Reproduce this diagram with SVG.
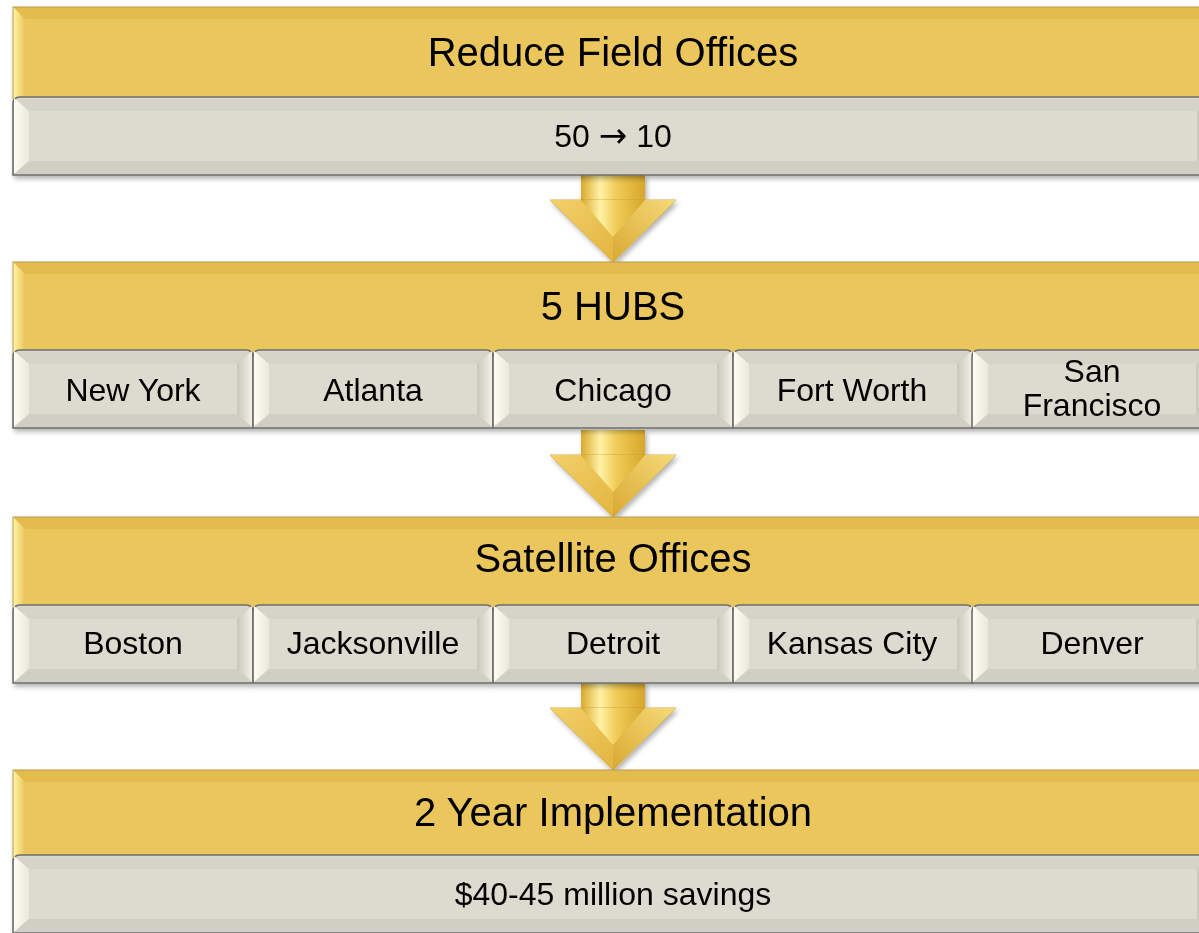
<svg xmlns="http://www.w3.org/2000/svg" xmlns:xlink="http://www.w3.org/1999/xlink" width="1199" height="933" viewBox="0 0 1199 933">
<style>
text{font-family:"Liberation Sans",Arial,sans-serif;fill:#000;text-anchor:middle}
.h{font-size:40px}
.s{font-size:32px}
.ar{font-family:"DejaVu Sans",sans-serif;font-size:34px}
.g0{fill:#EBC65B}
.gt{fill:#E3BC4E}
.gl{fill:url(#gL)}
.gr{fill:url(#gR)}
.gc{fill:#EBC65B}
.c0{fill:#DAD7CD;stroke:#6E6E6E;stroke-width:1.6}
.ct{fill:#D6D3C9}
.cl{fill:url(#cL)}
.cr{fill:url(#cR)}
.cb{fill:#D1CEC4}
.cc{fill:#DDDAD0}
</style>
<defs>
<linearGradient id="gL" x1="0" y1="0" x2="1" y2="0"><stop offset="0" stop-color="#FFF6A8"/><stop offset="1" stop-color="#EBC65B"/></linearGradient>
<linearGradient id="gR" x1="0" y1="0" x2="1" y2="0"><stop offset="0" stop-color="#EBC65B"/><stop offset="1" stop-color="#FFF3A0"/></linearGradient>
<linearGradient id="cL" x1="0" y1="0" x2="1" y2="0"><stop offset="0" stop-color="#FFFDF2"/><stop offset="1" stop-color="#EAE7DC"/></linearGradient>
<linearGradient id="cR" x1="0" y1="0" x2="1" y2="0"><stop offset="0" stop-color="#C9C6BC"/><stop offset="1" stop-color="#F3F1E7"/></linearGradient>
<linearGradient id="shaft" x1="0" y1="0" x2="1" y2="0"><stop offset="0" stop-color="#D9A92C"/><stop offset="0.3" stop-color="#FFF2A6"/><stop offset="0.55" stop-color="#F0CC58"/><stop offset="1" stop-color="#D7A62A"/></linearGradient>
<linearGradient id="headL" x1="0" y1="0" x2="1" y2="1"><stop offset="0" stop-color="#F3D06A"/><stop offset="1" stop-color="#E2B540"/></linearGradient>
<linearGradient id="headR" x1="1" y1="0" x2="0" y2="1"><stop offset="0" stop-color="#F6DA7A"/><stop offset="1" stop-color="#D9A932"/></linearGradient>
<filter id="sh" x="-5%" y="-20%" width="110%" height="150%"><feDropShadow dx="2" dy="3" stdDeviation="2.5" flood-color="#000" flood-opacity="0.3"/></filter>
<g id="hdr">
<rect class="g0" x="0" y="0" width="1200" height="92"/>
<path class="gt" d="M0 0H1200L1188 12H12Z"/>
<path class="gl" d="M0 0L12 12V92L0 92Z"/>
<path class="gr" d="M1200 0V92L1188 92V12Z"/>
<rect class="gc" x="12" y="12" width="1176" height="80"/>
<rect x="0" y="0" width="1200" height="92" fill="none" stroke="#B89B50" stroke-width="1"/>
</g>
<g id="bar">
<path class="c0" d="M0 78V7Q0 0 7 0H1193Q1200 0 1200 7V78Z"/>
<path class="ct" d="M2 2H1198L1184 14H16Z"/>
<path class="cl" d="M1 1L16 14V64L1 77Z"/>
<path class="cr" d="M1199 1V77L1184 64V14Z"/>
<path class="cb" d="M1 77H1199L1184 64H16Z"/>
<rect class="cc" x="16" y="14" width="1168" height="50"/>
</g>
<g id="cell">
<path class="c0" d="M0 78V7Q0 0 7 0H233Q240 0 240 7V78Z"/>
<path class="ct" d="M2 2H238L224 14H16Z"/>
<path class="cl" d="M1 1L16 14V64L1 77Z"/>
<path class="cr" d="M239 1V77L224 64V14Z"/>
<path class="cb" d="M1 77H239L224 64H16Z"/>
<rect class="cc" x="16" y="14" width="208" height="50"/>
</g>
<g id="arrow">
<rect x="-32" y="0" width="64" height="27" fill="url(#shaft)"/>
<path d="M-63 25H63L0 87Z" fill="#E3B843" stroke="#C89E30" stroke-width="0.8"/>
<path d="M-63 25H-32L0 62L0 87Z" fill="url(#headL)"/>
<path d="M63 25H32L0 62L0 87Z" fill="url(#headR)"/>
<path d="M-32 25L0 62L32 25Z" fill="url(#shaft)"/>
</g>
</defs>
<g id="connectors" filter="url(#sh)">
<use xlink:href="#arrow" x="613" y="175"/>
<use xlink:href="#arrow" x="613" y="430"/>
<use xlink:href="#arrow" x="613" y="683"/>
</g>
<g id="n1" filter="url(#sh)">
<use xlink:href="#hdr" x="13" y="7"/>
<use xlink:href="#bar" x="13" y="97"/>
<text class="h" x="613" y="66">Reduce Field Offices</text>
<text class="s" x="613" y="147">50 <tspan class="ar">→</tspan> 10</text>
</g>
<g id="n2" filter="url(#sh)">
<use xlink:href="#hdr" x="13" y="262"/>
<text class="h" x="613" y="320">5 HUBS</text>
<g id="n2a"><use xlink:href="#cell" x="13" y="350"/><text class="s" x="133" y="401">New York</text></g>
<g id="n2b"><use xlink:href="#cell" x="253" y="350"/><text class="s" x="373" y="401">Atlanta</text></g>
<g id="n2c"><use xlink:href="#cell" x="493" y="350"/><text class="s" x="613" y="401">Chicago</text></g>
<g id="n2d"><use xlink:href="#cell" x="733" y="350"/><text class="s" x="852" y="401">Fort Worth</text></g>
<g id="n2e"><use xlink:href="#cell" x="972" y="350"/><text class="s" x="1092" y="382">San</text><text class="s" x="1092" y="416">Francisco</text></g>
</g>
<g id="n3" filter="url(#sh)">
<use xlink:href="#hdr" x="13" y="517"/>
<text class="h" x="613" y="572">Satellite Offices</text>
<g id="n3a"><use xlink:href="#cell" x="13" y="605"/><text class="s" x="133" y="654">Boston</text></g>
<g id="n3b"><use xlink:href="#cell" x="253" y="605"/><text class="s" x="373" y="654">Jacksonville</text></g>
<g id="n3c"><use xlink:href="#cell" x="493" y="605"/><text class="s" x="613" y="654">Detroit</text></g>
<g id="n3d"><use xlink:href="#cell" x="733" y="605"/><text class="s" x="852" y="654">Kansas City</text></g>
<g id="n3e"><use xlink:href="#cell" x="972" y="605"/><text class="s" x="1092" y="654">Denver</text></g>
</g>
<g id="n4" filter="url(#sh)">
<use xlink:href="#hdr" x="13" y="770"/>
<use xlink:href="#bar" x="13" y="855"/>
<text class="h" x="613" y="826">2 Year Implementation</text>
<text class="s" x="613" y="905">$40-45 million savings</text>
</g>
</svg>
